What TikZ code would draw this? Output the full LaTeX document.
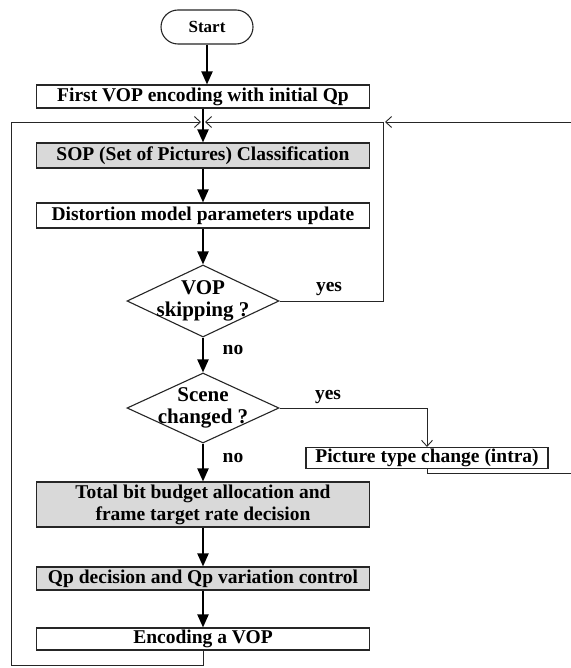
\documentclass[tikz,border=0pt]{standalone}
\usepackage{fontspec}
\setmainfont{Liberation Serif}
\usetikzlibrary{shapes.geometric,arrows.meta}
\begin{document}
\begin{tikzpicture}[x=1pt,y=1pt,
  every node/.style={font=\fontsize{19.5}{22}\selectfont\bfseries},
  box/.style={draw=black!85, line width=1.1pt, minimum width=333pt, minimum height=24pt, inner sep=0pt},
  shadedbox/.style={box, fill=black!15},
  dia/.style={draw=black!85, line width=1.1pt, shape=diamond, minimum width=152pt, minimum height=72pt, inner sep=0pt},
  diatext/.style={align=center, inner sep=0pt, font=\fontsize{21}{22}\selectfont\bfseries},
  flow/.style={line width=2pt, -{Triangle[width=11pt,length=13pt]}},
  loopline/.style={line width=0.9pt, black!85},
  loophead/.style={loopline, -{Straight Barb[length=6pt,width=11pt]}},
  lbl/.style={inner sep=0pt}]
\useasboundingbox (0,0) rectangle (570,-668);
\fill[white] (0,0) rectangle (570,-668);

% nodes
\node[draw=black!85, line width=1.1pt, rounded corners=17pt, minimum width=92pt, minimum height=34pt, inner sep=0pt, font=\fontsize{17}{19}\selectfont\bfseries] (start) at (207,-27) {Start};
\node[box, minimum height=23pt] (first) at (203,-96.5) {First VOP encoding with initial Qp};
\node[shadedbox, minimum height=25pt] (sop) at (203,-155.5) {SOP (Set of Pictures) Classification};
\node[box, minimum height=25pt] (dist) at (203,-215.5) {Distortion model parameters update};
\node[dia] (vop) at (203,-301) {};
\node[diatext] (voptext) at (vop) {VOP\\skipping ?};
\node[dia, minimum height=70pt] (scene) at (203,-408) {};
\node[diatext] (scenetext) at (scene) {Scene\\changed ?};
\node[box, minimum width=242pt, minimum height=21pt] (pic) at (427,-458) {Picture type change (intra)};
\node[shadedbox, minimum height=45pt, align=center] (total) at (203,-504.5) {Total bit budget allocation and\\frame target rate decision};
\node[shadedbox, minimum height=23pt] (qp) at (203,-578.5) {Qp decision and Qp variation control};
\node[box, minimum height=22pt] (enc) at (203,-639) {Encoding a VOP};

% labels
\node[lbl] (yes1) at (329,-289) {yes};
\node[lbl] (no1) at (233,-350) {no};
\node[lbl] (yes2) at (328,-397) {yes};
\node[lbl] (no2) at (233,-458) {no};

% coordinates for loops
\coordinate (lt) at (11,-122);
\coordinate (lb) at (11,-665);
\coordinate (jl) at (201,-122);
\coordinate (jr) at (205,-122);
\coordinate (vr) at (383,-122);
\coordinate (vrr) at (385,-122);
\coordinate (rb) at (578,-473);
\coordinate (rt) at (578,-122);

% main flow
\draw[flow] (start.south) -- (start.south |- first.north);
\draw[flow] (first.south) -- (sop.north);
\draw[flow] (sop.south) -- (dist.north);
\draw[flow] (dist.south) -- (vop.north);
\draw[flow] (vop.south) -- (scene.north);
\draw[flow] (scene.south) -- (total.north);
\draw[flow] (total.south) -- (qp.north);
\draw[flow] (qp.south) -- (enc.north);

% loops
\draw[loophead] (enc.south) |- (lb) -- (lt) -- (jl);
\draw[loophead] (vop.east) -| (vr) -- (jr);
\draw[loophead] (scene.east) -| (pic.north);
\draw[loophead] (pic.south) |- (rb) -- (rt) -- (vrr);
\end{tikzpicture}
\end{document}
